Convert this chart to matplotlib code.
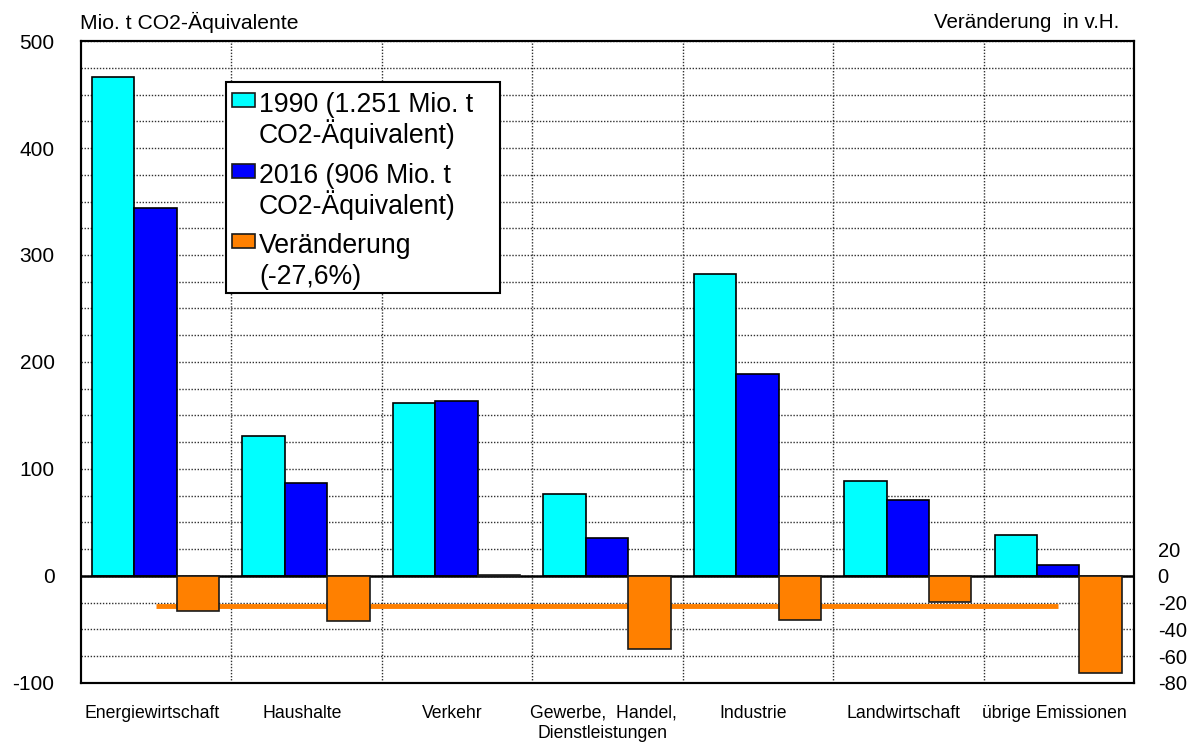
import matplotlib.pyplot as plt
from matplotlib.patches import Rectangle
from matplotlib.transforms import blended_transform_factory

plt.rcParams['font.family'] = ['Liberation Sans', 'DejaVu Sans']

# data
categories = ["Energiewirtschaft", "Haushalte", "Verkehr", "Gewerbe,  Handel,\nDienstleistungen",
              "Industrie", "Landwirtschaft", "übrige Emissionen"]
values_1990 = [466, 131, 162, 77, 282, 89, 38]
values_2016 = [344, 87, 164, 35.5, 189, 71, 10.5]
change_pct = [-26.4, -33.6, 1.0, -54.3, -33.2, -19.8, -72.2]
total_change = -27.6

legend_labels = ["1990 (1.251 Mio. t\nCO2-Äquivalent)",
                 "2016 (906 Mio. t\nCO2-Äquivalent)",
                 "Veränderung\n(-27,6%)"]
colors = ["#00FFFF", "#0000FF", "#FF8000"]

left_ticks = [500, 400, 300, 200, 100, 0, -100]
right_ticks = [20, 0, -20, -40, -60, -80]

fig = plt.figure(figsize=(11.98, 7.43), dpi=100)
ax = fig.add_axes([0.0676, 0.0808, 0.879, 0.864])
ax2 = ax.twinx()

n = len(categories)
bw = 0.282
off = 0.073
x = list(range(n))

# dotted grid
grid_style = dict(color="#303030", linewidth=1.0, linestyle=(0, (1, 1.2)), zorder=0)
for v in range(-100, 501, 25):
    ax.axhline(v, **grid_style)
for i in range(1, n):
    ax.axvline(i, **grid_style)

# mean change line (drawn on left scale)
ax.plot([x[0] + off + 1.5 * bw, x[-1] + off + 1.5 * bw], [total_change, total_change],
        color=colors[2], linewidth=3.5, solid_capstyle="butt", zorder=2)

ax.bar([i + off for i in x], values_1990, width=bw, align="edge", color=colors[0],
       edgecolor="black", linewidth=1.2, zorder=3)
ax.bar([i + off + bw for i in x], values_2016, width=bw, align="edge", color=colors[1],
       edgecolor="black", linewidth=1.2, zorder=3)
ax2.bar([i + off + 2 * bw for i in x], change_pct, width=bw, align="edge", color=colors[2],
        edgecolor="#1a1a1a", linewidth=1.2, zorder=3)

ax.axhline(0, color="black", linewidth=1.8, zorder=4)

ax.set_xlim(0, n)
ax.set_ylim(-100, 500)
ax2.set_ylim(-80, 400)

ax.set_yticks(left_ticks)
ax.set_yticklabels([str(t) for t in left_ticks], fontsize=15)
ax2.set_yticks(right_ticks)
ax2.set_yticklabels([str(t) for t in right_ticks], fontsize=14.5)
ax.tick_params(axis="y", length=0, pad=19)
ax2.tick_params(axis="y", length=0, pad=17)
ax.set_xticks([])

for a in (ax, ax2):
    for s in a.spines.values():
        s.set_linewidth(1.5)
        s.set_color("black")

# category labels
trans = blended_transform_factory(ax.transData, ax.transAxes)
for i, lab in enumerate(categories):
    ax.text(i + 0.47, -0.034, lab, transform=trans, ha="center", va="top",
            fontsize=12.7, linespacing=1.25)

fig.text(0.067, 0.970, "Mio. t CO2-Äquivalente", fontsize=15.2, ha="left", va="center")
fig.text(0.934, 0.970, "Veränderung  in v.H.", fontsize=14.8, ha="right", va="center")

# legend box drawn by hand so swatches sit at first line
lx0, ly0, lx1, ly1 = 226, 82, 500, 293
W, H = 1198, 743
fig.patches.append(Rectangle((lx0 / W, 1 - ly1 / H), (lx1 - lx0) / W, (ly1 - ly0) / H,
                             transform=fig.transFigure, facecolor="white",
                             edgecolor="black", linewidth=1.5, zorder=10))
entry_base = [112, 183, 253]
line_gap = 31
for yy, lab, c in zip(entry_base, legend_labels, colors):
    fig.patches.append(Rectangle((232 / W, 1 - (yy - 5) / H), 23 / W, 14 / H,
                                 transform=fig.transFigure, facecolor=c,
                                 edgecolor="#1a1a1a", linewidth=1.2, zorder=11))
    for k, line in enumerate(lab.split("\n")):
        fig.text(259 / W, 1 - (yy + k * line_gap) / H, line, fontsize=19.2,
                 ha="left", va="baseline", zorder=12)

plt.savefig("out.png", dpi=100)
